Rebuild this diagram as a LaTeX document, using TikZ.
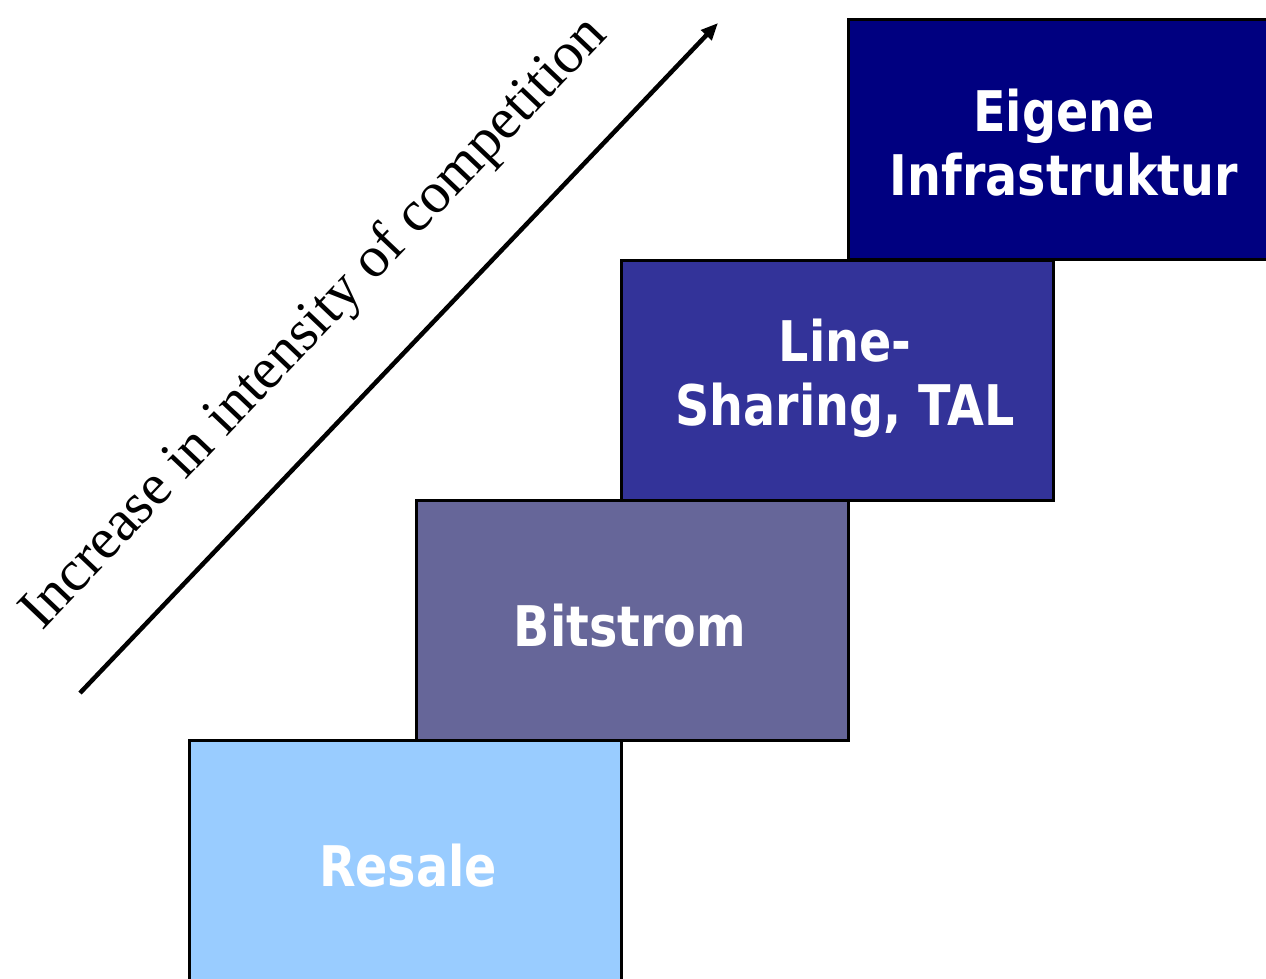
\documentclass[tikz,border=0pt]{standalone}
\usepackage{fontspec}
\setmainfont{Liberation Serif}
\newfontfamily\boxfont[FakeStretch=0.85]{DejaVu Sans Bold}
\usetikzlibrary{arrows.meta}
\definecolor{cResale}{HTML}{99CCFF}
\definecolor{cBit}{HTML}{666699}
\definecolor{cLine}{HTML}{333399}
\definecolor{cEig}{HTML}{000080}
\tikzset{
  stepbox/.style={draw=black, line width=3pt, minimum width=432pt, minimum height=240pt,
    inner sep=0pt, outer sep=0pt},
  steptext/.style={text=white, align=center, inner sep=0pt,
    font=\boxfont\fontsize{56}{64}\selectfont},
  arrowline/.style={line width=4.5pt, -{Triangle[length=17pt,width=14pt]}},
  slanted/.style={font=\fontsize{58}{60}\selectfont, rotate=46.4, inner sep=0pt}
}
\begin{document}
\begin{tikzpicture}[x=1pt,y=-1pt]
\useasboundingbox[fill=white] (0,0) rectangle (1266,978);
\node[stepbox, fill=cResale] (resale) at (405,860) {};
\node[stepbox, fill=cBit] (bit) at (632,620) {};
\node[stepbox, fill=cLine] (line) at (837,380) {};
\node[stepbox, fill=cEig] (eig) at (1064,139.5) {};
\node[steptext] (tresale) at (408,866) {Resale};
\node[steptext] (tbit) at (630,626) {Bitstrom};
\node[steptext] (tline) at (845,378) {Line-\\Sharing, TAL};
\node[steptext] (teig) at (1064,143) {Eigene\\Infrastruktur};
\coordinate (a1) at (80,693);
\coordinate (a2) at (718,23);
\draw[arrowline] (a1) -- (a2);
\node[slanted] (lbl) at (315,324) {Increase in intensity of competition};
\end{tikzpicture}
\end{document}
